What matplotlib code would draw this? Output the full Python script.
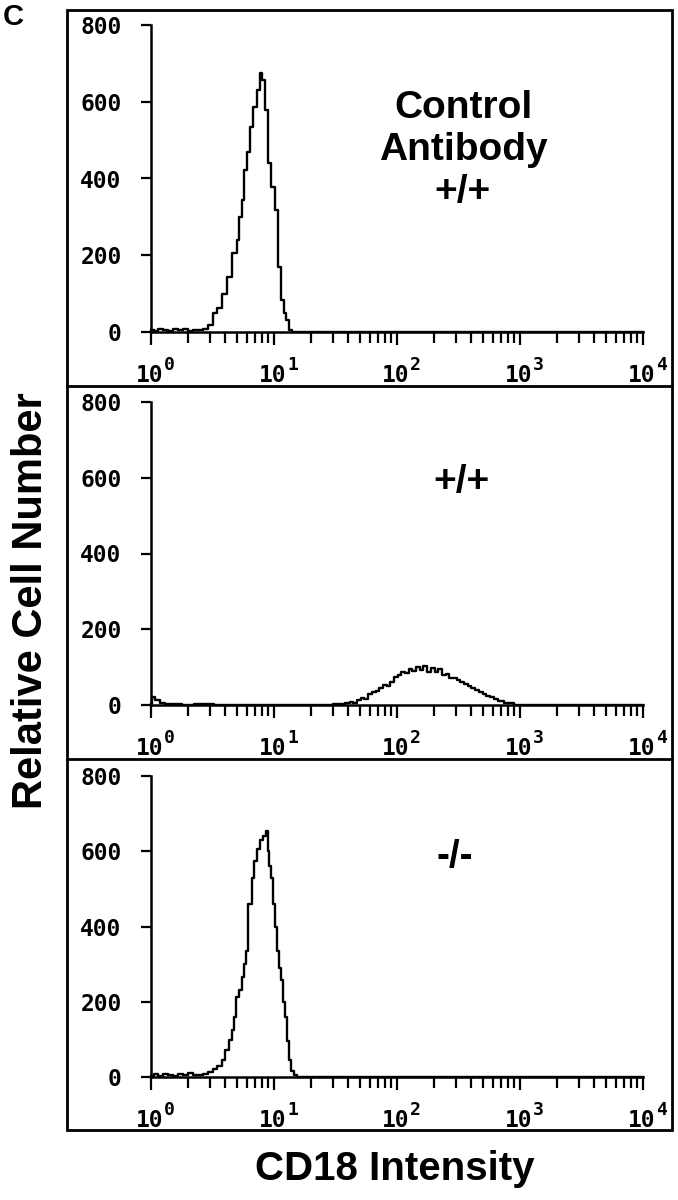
import matplotlib
matplotlib.use('Agg')
import numpy as np
import matplotlib.pyplot as plt
from matplotlib.lines import Line2D
from matplotlib.patches import Rectangle
from matplotlib.ticker import LogLocator, NullFormatter

# --- DATA: histogram channels (log10 of CD18 intensity) and cell counts ---
ctrl_log = [0.00, 0.04, 0.08, 0.12, 0.16, 0.20, 0.24, 0.28, 0.32, 0.36,
            0.40, 0.44, 0.48, 0.52, 0.56, 0.60, 0.64, 0.68, 0.71, 0.725,
            0.748, 0.765, 0.79, 0.82, 0.846, 0.87, 0.894, 0.91, 0.94, 0.967,
            0.99, 1.02, 1.045, 1.07, 1.09, 1.11, 1.13, 1.16, 1.20, 4.00]
ctrl_counts = [6, 3, 8, 5, 2, 7, 4, 9, 3, 6,
               5, 8, 18, 50, 62, 100, 143, 205, 240, 300,
               344, 422, 469, 534, 586, 630, 675, 657, 578, 440,
               378, 318, 169, 83, 50, 31, 5, 0, 0, 0]

wt_log = [0.00, 0.02, 0.05, 0.09, 0.14, 0.20, 0.30, 0.40, 0.60, 0.80,
          1.00, 1.20, 1.40, 1.55, 1.60, 1.63, 1.66, 1.69, 1.72, 1.75,
          1.78, 1.81, 1.84, 1.87, 1.90, 1.93, 1.96, 1.99, 2.02, 2.05,
          2.08, 2.11, 2.14, 2.17, 2.20, 2.23, 2.26, 2.29, 2.32, 2.35,
          2.38, 2.41, 2.44, 2.47, 2.50, 2.53, 2.56, 2.59, 2.62, 2.65,
          2.68, 2.71, 2.74, 2.77, 2.80, 2.84, 2.90, 3.00, 4.00]
wt_counts = [3, 22, 12, 5, 3, 2, 1, 2, 0, 1,
             0, 1, 0, 2, 4, 8, 6, 12, 18, 15,
             28, 34, 38, 45, 52, 50, 60, 75, 80, 88,
             84, 96, 90, 100, 92, 104, 86, 98, 88, 94,
             78, 82, 72, 70, 66, 60, 55, 50, 44, 40,
             35, 30, 24, 20, 16, 10, 4, 0, 0]

ko_log = [0.00, 0.04, 0.08, 0.12, 0.16, 0.20, 0.24, 0.28, 0.32, 0.36,
          0.40, 0.44, 0.48, 0.52, 0.56, 0.59, 0.62, 0.645, 0.665, 0.685,
          0.705, 0.725, 0.748, 0.765, 0.78, 0.805, 0.83, 0.85, 0.87, 0.90,
          0.92, 0.943, 0.955, 0.97, 0.985, 1.00, 1.02, 1.035, 1.05, 1.065,
          1.08, 1.095, 1.11, 1.13, 1.15, 1.17, 1.20, 4.00]
ko_counts = [3, 7, 2, 9, 5, 3, 8, 4, 10, 6,
             5, 9, 13, 22, 30, 45, 72, 98, 125, 160,
             212, 232, 265, 300, 336, 461, 530, 575, 605, 630,
             640, 654, 601, 560, 530, 461, 400, 336, 290, 257,
             200, 160, 95, 45, 15, 4, 0, 0]

panel_labels = ['Control\nAntibody\n+/+', '+/+', '-/-']
y_ticks = [0, 200, 400, 600, 800]
x_decades = [0, 1, 2, 3, 4]

W, H = 678, 1200
PT = 0.72  # points per pixel at dpi 100


def fx(px):
    return px / W


def fy(py):
    return 1 - py / H


fig = plt.figure(figsize=(W / 100, H / 100), dpi=100)

# outer frame and panel dividers
fig.add_artist(Rectangle((fx(67), fy(1130)), fx(672) - fx(67), fy(10) - fy(1130),
                         transform=fig.transFigure, fill=False, lw=2, ec='black'))
for yy in [386, 759]:
    fig.add_artist(Line2D([fx(67), fx(672)], [fy(yy), fy(yy)],
                          transform=fig.transFigure, color='black', lw=2))

# (pixel row of the 800 tick, pixel row of the 0 tick) per panel
panels = [(25, 332), (402, 705), (776, 1077)]
series = [(ctrl_log, ctrl_counts), (wt_log, wt_counts), (ko_log, ko_counts)]
label_xy = [(463, 150), (462, 482), (455, 857)]
mono = {'family': 'DejaVu Sans Mono', 'weight': 'bold', 'size': 16.5}

for (top, bot), (lx, cnt), lab, (tx, ty) in zip(panels, series, panel_labels, label_xy):
    ax = fig.add_axes([fx(151), fy(bot), fx(643) - fx(151), fy(top) - fy(bot)])
    ax.set_xscale('log')
    ax.plot(10 ** np.array(lx), cnt, drawstyle='steps-mid', color='black',
            lw=1.7, clip_on=False)
    ax.set_xlim(1, 1e4)
    ax.set_ylim(0, 800)

    for s in ['top', 'right']:
        ax.spines[s].set_visible(False)
    for s in ['left', 'bottom']:
        ax.spines[s].set_linewidth(1.8)

    ax.set_yticks(y_ticks)
    ax.set_yticklabels([str(v) for v in y_ticks], fontdict=mono)
    ax.tick_params(axis='y', direction='out', length=7.2, width=1.6, pad=14)

    # decade labels drawn as "10" plus a raised exponent
    ax.set_xticks([10 ** d for d in x_decades])
    ax.set_xticklabels([])
    ax.xaxis.set_minor_locator(LogLocator(base=10, subs=range(2, 10), numticks=20))
    ax.xaxis.set_minor_formatter(NullFormatter())
    ax.tick_params(axis='x', which='major', direction='out', length=9.4, width=1.6)
    ax.tick_params(axis='x', which='minor', direction='out', length=8, width=1.6)
    for d in x_decades:
        ax.annotate('10', xy=(10 ** d, 0), xycoords=('data', 'axes fraction'),
                    xytext=(-15 * PT, -50 * PT), textcoords='offset points',
                    ha='left', va='baseline', annotation_clip=False, **mono)
        ax.annotate(str(d), xy=(10 ** d, 0), xycoords=('data', 'axes fraction'),
                    xytext=(13 * PT, -38 * PT), textcoords='offset points',
                    ha='left', va='baseline', annotation_clip=False,
                    family='DejaVu Sans Mono', weight='bold', size=13)

    fig.text(fx(tx), fy(ty), lab, ha='center', va='center', family='Liberation Sans',
             weight='bold', fontsize=28, linespacing=1.2)

fig.text(fx(3), fy(25), 'C', ha='left', va='baseline', family='Liberation Sans',
         weight='bold', fontsize=21)
fig.text(fx(42), fy(601), 'Relative Cell Number', rotation=90, rotation_mode='anchor',
         ha='center', va='baseline', family='Liberation Sans', weight='bold', fontsize=30)
fig.text(fx(395), fy(1180), 'CD18 Intensity', ha='center', va='baseline',
         family='Liberation Sans', weight='bold', fontsize=29)

fig.savefig('out.png', dpi=100)
